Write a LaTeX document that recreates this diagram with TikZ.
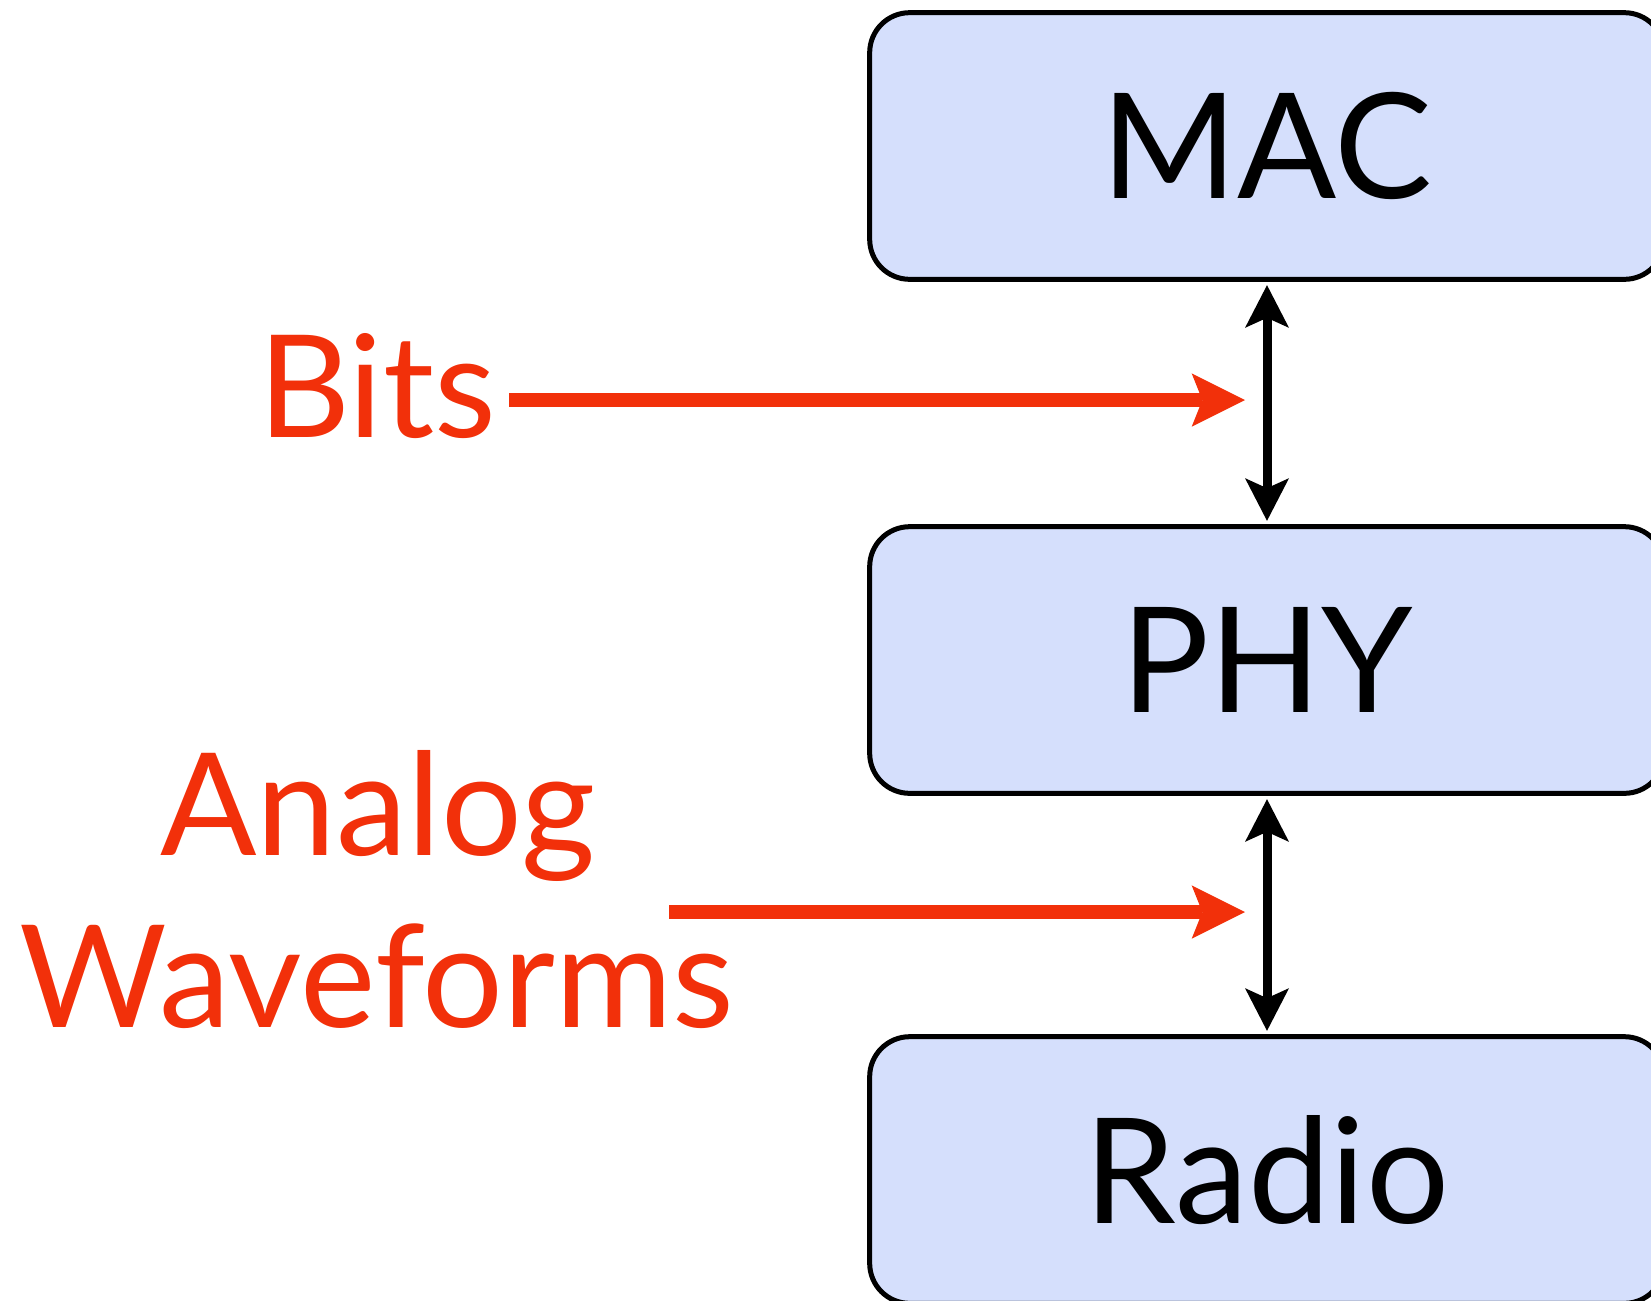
\documentclass[tikz,border=0pt]{standalone}
\usepackage{fontspec}
\setmainfont{Lato}
\usetikzlibrary{arrows.meta}

\definecolor{layerfill}{RGB}{213,223,252}
\definecolor{labelred}{RGB}{242,48,10}

\tikzset{every picture/.style={line width=0.75pt}}
\tikzset{
	layer/.style={draw=black, line width=3.75pt, fill=layerfill, rounded corners=30pt, minimum width=596pt, minimum height=200pt, inner sep=0pt, font=\fontsize{110}{132}\selectfont},
	redlabel/.style={text=labelred, inner sep=0pt, font=\fontsize{107}{129}\selectfont},
	linkarrow/.style={line width=6.75pt, {Stealth[length=32pt,width=33pt,inset=7.5pt,line width=0pt]}-{Stealth[length=32pt,width=33pt,inset=7.5pt,line width=0pt]}, shorten >=2.5pt, shorten <=2.5pt},
	feedarrow/.style={draw=labelred, line width=10pt, -{Stealth[length=40pt,width=40pt,inset=8pt,line width=0pt]}}
}

\begin{document}
\begin{tikzpicture}[x=0.75pt,y=0.75pt,yscale=-1,xscale=1]
	\useasboundingbox (0,0) rectangle (1651,1300);
	
	%Shape: Rounded Rect [id:mac] 
	\node [layer] (mac) at (1267,146) {MAC};
	%Shape: Rounded Rect [id:phy] 
	\node [layer] (phy) at (1267,660) {PHY};
	%Shape: Rounded Rect [id:radio] 
	\node [layer] (radio) at (1267,1170) {Radio};
	
	%Straight Lines [id:macphy] 
	\draw [linkarrow] (mac.south) -- (phy.north) ;
	%Straight Lines [id:phyradio] 
	\draw [linkarrow] (phy.south) -- (radio.north) ;
	
	% Text Node
	\node [redlabel, anchor=base] (bits) at (377,437) {Bits};
	% Text Node
	\node [redlabel, anchor=base] (analog) at (378,855) {Analog};
	% Text Node
	\node [redlabel, anchor=base] (waveforms) at (377,1027) {Waveforms};
	
	\coordinate (bitsstart) at (509,400);
	\coordinate (bitsend) at (1245,400);
	\coordinate (wavestart) at (669,912);
	\coordinate (waveend) at (1245,912);
	%Straight Lines [id:bitsarrow] 
	\draw [feedarrow] (bitsstart) -- (bitsend) ;
	%Straight Lines [id:wavearrow] 
	\draw [feedarrow] (wavestart) -- (waveend) ;
	
\end{tikzpicture}
\end{document}
